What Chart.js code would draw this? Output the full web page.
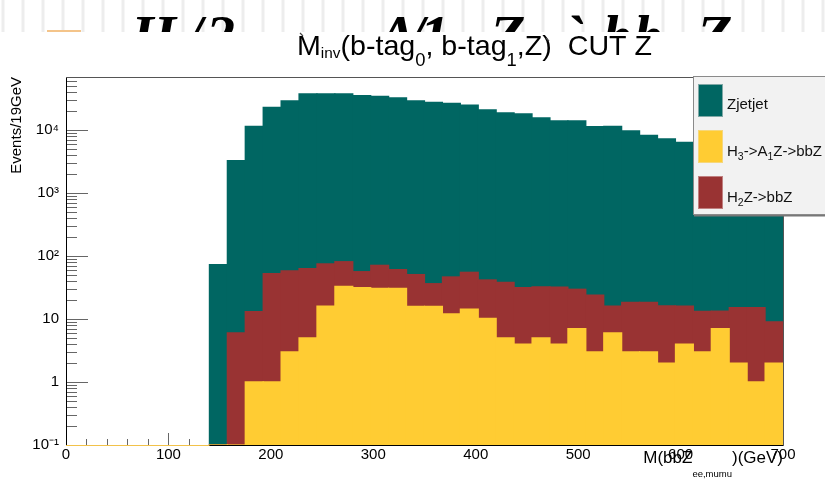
<!DOCTYPE html>
<html><head><meta charset="utf-8">
<script src="https://cdn.jsdelivr.net/npm/chart.js@4/dist/chart.umd.min.js"></script>
<style>html,body{margin:0;padding:0;background:#fff;overflow:hidden}canvas{display:block}</style>
</head><body>
<canvas id="c" width="825" height="479"></canvas>
<script>
// ---------- DATA ----------
// bin centres in GeV (17.5 GeV bins from 140 to 700)
const binCenters = [148.75,166.25,183.75,201.25,218.75,236.25,253.75,271.25,288.75,306.25,323.75,341.25,358.75,376.25,393.75,411.25,428.75,446.25,463.75,481.25,498.75,516.25,533.75,551.25,568.75,586.25,603.75,621.25,638.75,656.25,673.75,691.25];
// per-process events per bin (stacked: H3 bottom, H2Z middle, Zjetjet top)
const h3ToA1Z = [0,0,1,1,3,5,16,33,31.4,30.7,30.7,15.9,15.9,12.1,14.3,10.2,5,4,5,4,7,3,6,3,3,2,4,3,7,2,1,2];
const h2Z     = [0,6,12.1,51.3,54.8,58,58.8,48,24.9,40.3,30,34.7,20.4,34.3,40.7,31.4,33.2,27.3,27.2,28.1,22.6,20.9,10,15.3,15.3,14.1,12,10.2,6.3,13.1,14.1,7];
const zjetjet = [73,3250,11400,22750,28850,37250,37250,37200,34850,34050,32150,28850,27350,26350,24550,20650,18550,17850,15450,13850,13850,11200,11400,9600,8200,7200,6300,5600,5000,4400,3900,3400];
const seriesNames = ['Zjetjet','H_3->A_1Z->bbZ','H_2Z->bbZ'];
const xTickValues = [0,100,200,300,400,500,600,700];
const xTickLabels = ['0','100','200','300','400','500','600','700'];
const yTickValues = [0.1,1,10,100,1000,10000];
const yTickLabels = ['10\u207B\u00B9','1','10','10\u00B2','10\u00B3','10\u2074'];

// ---------- STYLE ----------
const W = 825, H = 479;
const FONT = '"Liberation Sans", Arial, Helvetica, sans-serif';
const SERIF = '"Liberation Serif", "Times New Roman", serif';
const colTeal = '#006662', colRed = '#993333', colYellow = '#ffcc33';

const toPts = vals => binCenters.map((x, i) => ({x: x, y: vals[i]}));

function partsFromLabel(label, size, subSize, subDy) {
  const parts = [];
  let buf = '';
  for (let i = 0; i < label.length; i++) {
    if (label[i] === '_' && i + 1 < label.length) {
      if (buf) { parts.push({t: buf, size: size, dy: 0}); buf = ''; }
      parts.push({t: label[i + 1], size: subSize, dy: subDy});
      i++;
    } else buf += label[i];
  }
  if (buf) parts.push({t: buf, size: size, dy: 0});
  return parts;
}
function richWidth(ctx, parts, family) {
  let w = 0;
  for (const p of parts) { ctx.font = (p.style || '') + ' ' + p.size + 'px ' + family; w += ctx.measureText(p.t).width; }
  return w;
}
function drawRich(ctx, parts, x, y, family, sx) {
  ctx.save();
  ctx.translate(x, y);
  ctx.scale(sx || 1, 1);
  ctx.textBaseline = 'alphabetic';
  ctx.textAlign = 'left';
  let cx = 0;
  for (const p of parts) {
    ctx.font = (p.style || '') + ' ' + p.size + 'px ' + family;
    ctx.fillText(p.t, cx, p.dy || 0);
    cx += ctx.measureText(p.t).width;
  }
  ctx.restore();
}
const crisp = v => Math.round(v) + 0.5;

const rootPlugin = {
  id: 'rootStyle',
  beforeDraw(chart) {
    const ctx = chart.ctx;
    ctx.save();
    ctx.fillStyle = '#fff';
    ctx.fillRect(0, 0, W, H);
    // faint striped band at the very top
    ctx.fillStyle = '#ededed';
    for (let x = 1.5; x < W; x += 20) ctx.fillRect(x, 0, 3, 32);
    ctx.restore();
  },
  beforeDatasetsDraw(chart) {
    const ctx = chart.ctx, a = chart.chartArea;
    const xs = chart.scales.x, ys = chart.scales.y;
    ctx.save();
    ctx.strokeStyle = '#666';
    ctx.lineWidth = 1;
    ctx.beginPath();
    for (let d = -1; d <= 4; d++) {
      for (let m = 1; m <= 9; m++) {
        const v = m * Math.pow(10, d);
        if (v > ys.max) break;
        const py = crisp(ys.getPixelForValue(v));
        const len = m === 1 ? 22 : 11;
        ctx.moveTo(a.left, py); ctx.lineTo(a.left + len, py);
      }
    }
    for (let v = 20; v < 700; v += 20) {
      const px = crisp(xs.getPixelForValue(v));
      const len = v % 100 === 0 ? 12 : 6;
      ctx.moveTo(px, a.bottom); ctx.lineTo(px, a.bottom - len);
    }
    ctx.stroke();
    ctx.restore();
  },
  afterDatasetsDraw(chart) {
    const ctx = chart.ctx, a = chart.chartArea;
    const xs = chart.scales.x;
    ctx.save();
    // frame
    ctx.lineWidth = 1;
    ctx.strokeStyle = '#555';
    ctx.beginPath();
    ctx.moveTo(crisp(a.left), crisp(a.top)); ctx.lineTo(crisp(a.right), crisp(a.top)); ctx.lineTo(crisp(a.right), crisp(a.bottom));
    ctx.stroke();
    ctx.strokeStyle = '#000';
    ctx.beginPath();
    ctx.moveTo(crisp(a.left), crisp(a.top)); ctx.lineTo(crisp(a.left), crisp(a.bottom)); ctx.lineTo(crisp(a.right), crisp(a.bottom));
    ctx.stroke();
    // yellow histogram outline along zero level (empty bins)
    ctx.strokeStyle = '#f2c24a';
    ctx.beginPath();
    ctx.moveTo(a.left, crisp(a.bottom)); ctx.lineTo(xs.getPixelForValue(binCenters[0] - 8.75), crisp(a.bottom));
    ctx.stroke();

    // legend box
    const lx = 693, ly = 77, lb = 215;
    ctx.fillStyle = '#f2f2f2';
    ctx.fillRect(lx, ly, W - lx + 5, lb - ly);
    ctx.strokeStyle = '#8a8a8a';
    ctx.strokeRect(lx + 0.5, ly - 0.5, W - lx + 5, lb - ly);
    ctx.fillStyle = '#777';
    ctx.fillRect(lx + 1, lb, W - lx, 1.5);
    const entries = [
      {name: seriesNames[0], fill: colTeal, edge: '#80a8a6', y: 84, base: 109},
      {name: seriesNames[1], fill: colYellow, edge: '#f6d77a', y: 130, base: 156},
      {name: seriesNames[2], fill: colRed, edge: '#c08080', y: 176, base: 202}
    ];
    for (const e of entries) {
      ctx.fillStyle = e.fill;
      ctx.fillRect(698, e.y, 25, 33);
      ctx.strokeStyle = e.edge;
      ctx.strokeRect(698.5, e.y + 0.5, 24, 32);
      ctx.fillStyle = '#111';
      drawRich(ctx, partsFromLabel(e.name, 15, 10.5, 4), 727, e.base, FONT, 1);
    }

    // main title
    ctx.fillStyle = '#000';
    const tParts = [
      {t: 'M', size: 28, dy: 0},
      {t: 'inv', size: 15, dy: 3},
      {t: '(b-tag', size: 28, dy: 0},
      {t: '0', size: 18, dy: 11},
      {t: ', b-tag', size: 28, dy: 0},
      {t: '1', size: 18, dy: 11},
      {t: ',Z)  CUT Z', size: 28, dy: 0}
    ];
    const tw = richWidth(ctx, tParts, FONT);
    drawRich(ctx, tParts, 297, 55, FONT, 355 / tw);
    ctx.strokeStyle = '#444';
    ctx.lineWidth = 1.2;
    ctx.beginPath();
    ctx.moveTo(300, 33); ctx.lineTo(303, 36);
    ctx.moveTo(546, 38); ctx.lineTo(549, 41);
    ctx.stroke();

    // x axis title
    const xParts = [
      {t: 'M(bbZ', size: 17, dy: 0},
      {t: 'ee,mumu', size: 9.5, dy: 14},
      {t: ')(GeV)', size: 17, dy: 0}
    ];
    const xw = richWidth(ctx, xParts, FONT);
    drawRich(ctx, xParts, 783 - xw, 463, FONT, 1);

    // large clipped italic header text
    ctx.save();
    ctx.beginPath();
    ctx.rect(0, 0, W, 32);
    ctx.clip();
    ctx.fillStyle = '#000';
    ctx.font = 'italic bold 58px ' + SERIF;
    ctx.textBaseline = 'alphabetic';
    const tokens = [['H',131],['/',186],['2',206],['A',378],['/',408],['1',420],['Z',490],['`',565],['b',603],['b',634],['Z',697]];
    for (const [t, x] of tokens) ctx.fillText(t, x, 55);
    ctx.restore();
    ctx.fillStyle = '#f4c48a';
    ctx.fillRect(47, 30, 34, 2);
    ctx.restore();
  }
};

new Chart(document.getElementById('c'), {
  type: 'bar',
  data: {
    datasets: [
      {label: seriesNames[1].replace(/_/g, ''), data: toPts(h3ToA1Z), backgroundColor: colYellow, borderWidth: 0},
      {label: seriesNames[2].replace(/_/g, ''), data: toPts(h2Z), backgroundColor: colRed, borderWidth: 0},
      {label: seriesNames[0], data: toPts(zjetjet), backgroundColor: colTeal, borderWidth: 0}
    ]
  },
  options: {
    responsive: false,
    animation: false,
    devicePixelRatio: 1,
    layout: {padding: {top: 77, right: 42, left: 0, bottom: 0}},
    datasets: {bar: {barPercentage: 1, categoryPercentage: 1, grouped: false, inflateAmount: 0.6}},
    plugins: {legend: {display: false}, title: {display: false}, tooltip: {enabled: false}},
    scales: {
      x: {
        type: 'linear', min: 0, max: 700, stacked: true, offset: false,
        grid: {display: false, drawTicks: false}, border: {display: false},
        afterBuildTicks: s => { s.ticks = xTickValues.map(v => ({value: v})); },
        ticks: {
          callback: v => xTickLabels[xTickValues.indexOf(v)],
          font: {family: FONT, size: 15}, color: '#000', padding: 1, maxRotation: 0, autoSkip: false
        },
        afterFit: s => { s.height = 34; }
      },
      y: {
        type: 'logarithmic', min: 0.1, max: 69000, stacked: true,
        grid: {display: false, drawTicks: false}, border: {display: false},
        afterBuildTicks: s => { s.ticks = yTickValues.map(v => ({value: v})); },
        ticks: {
          callback: v => { const i = yTickValues.findIndex(t => Math.abs(t - v) / t < 1e-6); return i >= 0 ? yTickLabels[i] : ''; },
          font: {family: FONT, size: 15}, color: '#000', padding: 7, autoSkip: false
        },
        title: {display: true, text: 'Events/19GeV', align: 'end', color: '#000',
                font: {family: FONT, size: 15}, padding: {top: 8, bottom: 0}},
        afterFit: s => { s.width = 66; }
      }
    }
  },
  plugins: [rootPlugin]
});
</script>
</body></html>
